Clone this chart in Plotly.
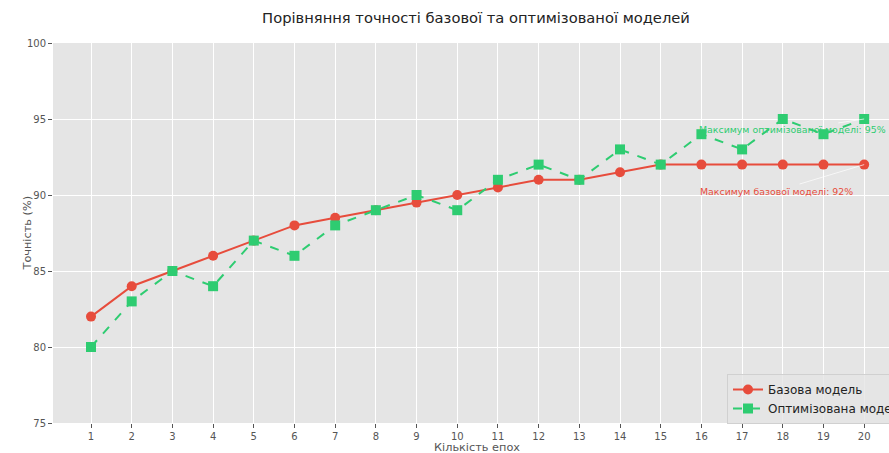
import plotly.graph_objects as go

epochs = list(range(1, 21))
base_acc = [82, 84, 85, 86, 87, 88, 88.5, 89, 89.5, 90, 90.5, 91, 91, 91.5, 92, 92, 92, 92, 92, 92]
opt_acc = [80, 83, 85, 84, 87, 86, 88, 89, 90, 89, 91, 92, 91, 93, 92, 94, 93, 95, 94, 95]
y_ticks = [75, 80, 85, 90, 95, 100]

RED = "#e74c3c"
GREEN = "#2ecc71"
FONT = "DejaVu Sans"

L, R, T, B = 53, 0, 43, 30
W, H = 889, 453
pw, ph = W - L - R, H - T - B

fig = go.Figure()
fig.add_trace(go.Scatter(
    x=epochs, y=base_acc, mode="lines+markers", name="Базова модель",
    line=dict(color=RED, width=2),
    marker=dict(symbol="circle", size=10, color=RED),
))
fig.add_trace(go.Scatter(
    x=epochs, y=opt_acc, mode="lines+markers", name="Оптимізована модель",
    line=dict(color=GREEN, width=2, dash="dash"),
    marker=dict(symbol="square", size=10, color=GREEN),
))

fig.add_annotation(
    x=20, y=max(base_acc), xref="x", yref="y",
    ax=17.84, ay=90.26, axref="x", ayref="y",
    text="Максимум базової моделі: 92%", showarrow=True,
    arrowhead=0, arrowwidth=1, arrowcolor="rgba(255,255,255,0.7)",
    font=dict(family=FONT, size=9.4, color=RED),
)
fig.add_annotation(
    x=20, y=max(opt_acc), xref="x", yref="y",
    ax=18.23, ay=94.28, axref="x", ayref="y",
    text="Максимум оптимізованої моделі: 95%", showarrow=True,
    arrowhead=0, arrowwidth=1, arrowcolor="rgba(255,255,255,0.7)",
    font=dict(family=FONT, size=9.4, color=GREEN),
)
# axis titles
fig.add_annotation(
    x=(477 - L) / pw, y=-(447 - (H - B)) / ph, xref="paper", yref="paper",
    showarrow=False, yanchor="middle",
    text="Кількість епох", font=dict(family=FONT, size=11.3, color="#555555"),
)
fig.add_annotation(
    x=(18 - L) / pw, y=0.5, xref="paper", yref="paper", showarrow=False,
    text="Точність (%)", textangle=-90,
    font=dict(family=FONT, size=11.3, color="#555555"),
)

fig.update_layout(
    width=W, height=H,
    margin=dict(l=L, r=R, t=T, b=B, autoexpand=False),
    paper_bgcolor="white",
    plot_bgcolor="#E5E5E5",
    font=dict(family=FONT, color="#555555"),
    title=dict(
        text="Порівняння точності базової та оптимізованої моделей",
        x=476 / 889, xref="container", xanchor="center",
        y=1 - 18 / 453, yref="container", yanchor="middle",
        font=dict(family=FONT, size=14.7, color="#222222"),
        automargin=False,
    ),
    xaxis=dict(
        range=[0.066, 20.61],
        tickmode="array", tickvals=epochs, ticktext=[str(e) for e in epochs],
        showgrid=True, gridcolor="white", gridwidth=1,
        zeroline=False, ticks="outside", ticklen=4, tickcolor="#555555",
        tickfont=dict(size=10, color="#555555"),
        showline=False, automargin=False,
    ),
    yaxis=dict(
        range=[75, 100],
        tickmode="array", tickvals=y_ticks, ticktext=[str(v) for v in y_ticks],
        showgrid=True, gridcolor="white", gridwidth=1,
        zeroline=False, ticks="outside", ticklen=4, tickcolor="#555555",
        tickfont=dict(size=10, color="#555555"),
        showline=False, automargin=False,
    ),
    legend=dict(
        x=(727 - L) / pw, y=(H - B - 399) / ph, xanchor="left", yanchor="middle",
        bgcolor="rgba(229,229,229,0.8)", bordercolor="#d0d0d0", borderwidth=1,
        font=dict(family=FONT, size=12, color="#222222"),
        tracegroupgap=0,
    ),
    showlegend=True,
)

fig.write_html(
    "out.html",
    config={"displayModeBar": False},
    post_script="document.body.style.margin='0';document.body.style.overflow='hidden';",
)
